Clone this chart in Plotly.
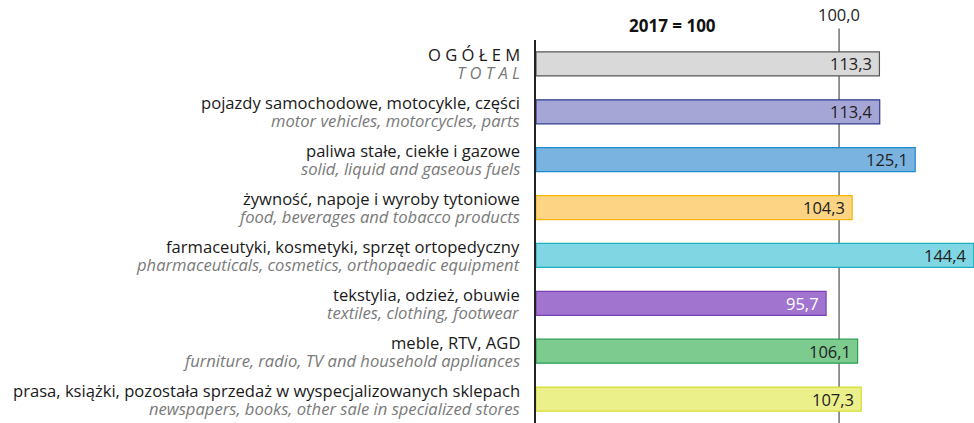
import plotly.graph_objects as go

# Retail sales indices by store category, 2017 = 100
labels_pl = [
    " ".join("OGÓŁEM"),
    "pojazdy samochodowe, motocykle, części",
    "paliwa stałe, ciekłe i gazowe",
    "żywność, napoje i wyroby tytoniowe",
    "farmaceutyki, kosmetyki, sprzęt ortopedyczny",
    "tekstylia, odzież, obuwie",
    "meble, RTV, AGD",
    "prasa, książki, pozostała sprzedaż w wyspecjalizowanych sklepach",
]
labels_en = [
    " ".join("TOTAL"),
    "motor vehicles, motorcycles, parts",
    "solid, liquid and gaseous fuels",
    "food, beverages and tobacco products",
    "pharmaceuticals, cosmetics, orthopaedic equipment",
    "textiles, clothing, footwear",
    "furniture, radio, TV and household appliances",
    "newspapers, books, other sale in specialized stores",
]
values = [113.3, 113.4, 125.1, 104.3, 144.4, 95.7, 106.1, 107.3]

fill_colors = ["#d9d9d9", "#a6a6d6", "#7ab3df", "#fdd484",
               "#80d6e2", "#a175cf", "#7ecb8f", "#ecf08a"]
line_colors = ["#555555", "#2e3a8c", "#1a8ccf", "#f5b800",
               "#1eaec0", "#7b3fb5", "#2aa055", "#d6de30"]
value_text_colors = ["#222222"] * 5 + ["#ffffff"] + ["#222222"] * 2

base_value = 100.0
base_label = "2017 = 100"

FONT = "Open Sans, sans-serif"
LABEL_SIZE = 16.6

fmt = lambda v: f"{v:.1f}".replace(".", ",")

ypos = list(range(len(values)))

fig = go.Figure()
fig.add_trace(go.Bar(
    x=values,
    y=ypos,
    orientation="h",
    width=0.5,
    marker=dict(color=fill_colors, line=dict(color=line_colors, width=1.2)),
    hoverinfo="skip",
    showlegend=False,
))

annotations = []
for i, v in enumerate(values):
    # value label inside the bar end
    annotations.append(dict(
        x=v, y=i, xref="x", yref="y", text=fmt(v), showarrow=False,
        xanchor="right", xshift=-5,
        font=dict(family=FONT, size=16.5, color=value_text_colors[i]),
    ))
    # Polish category name
    annotations.append(dict(
        x=0, y=i, xref="paper", yref="y", text=labels_pl[i], showarrow=False,
        xanchor="right", xshift=-14, yshift=9,
        font=dict(family=FONT, size=LABEL_SIZE, color="#1a1a1a"),
    ))
    # English category name
    annotations.append(dict(
        x=0, y=i, xref="paper", yref="y", text=f"<i>{labels_en[i]}</i>",
        showarrow=False, xanchor="right", xshift=-14, yshift=-9,
        font=dict(family=FONT, size=LABEL_SIZE, color="#7a7a7a"),
    ))

annotations.append(dict(
    x=base_value, y=1, xref="x", yref="paper", yanchor="bottom", yshift=12,
    text=fmt(base_value), showarrow=False,
    font=dict(family=FONT, size=16.5, color="#222222"),
))
annotations.append(dict(
    x=45, y=1, xref="x", yref="paper", yanchor="bottom", yshift=1,
    text=f"<b>{base_label}</b>", showarrow=False,
    font=dict(family=FONT, size=17, color="#111111"),
))

fig.add_shape(type="line", x0=base_value, x1=base_value, y0=0, y1=1.03,
              xref="x", yref="paper", line=dict(color="#8a8a8a", width=1.8),
              layer="below")

fig.update_layout(
    width=974, height=423,
    margin=dict(l=536, r=0, t=40, b=0),
    paper_bgcolor="white", plot_bgcolor="white",
    xaxis=dict(range=[0, 144.5], showgrid=False, zeroline=False,
               showticklabels=False, ticks="", showline=False),
    yaxis=dict(range=[7.5, -0.5], showgrid=False, zeroline=False,
               showticklabels=False, ticks="", showline=True,
               linecolor="#222222", linewidth=1.5),
    annotations=annotations,
    bargap=0.5,
)

fig.write_html("out.html")
